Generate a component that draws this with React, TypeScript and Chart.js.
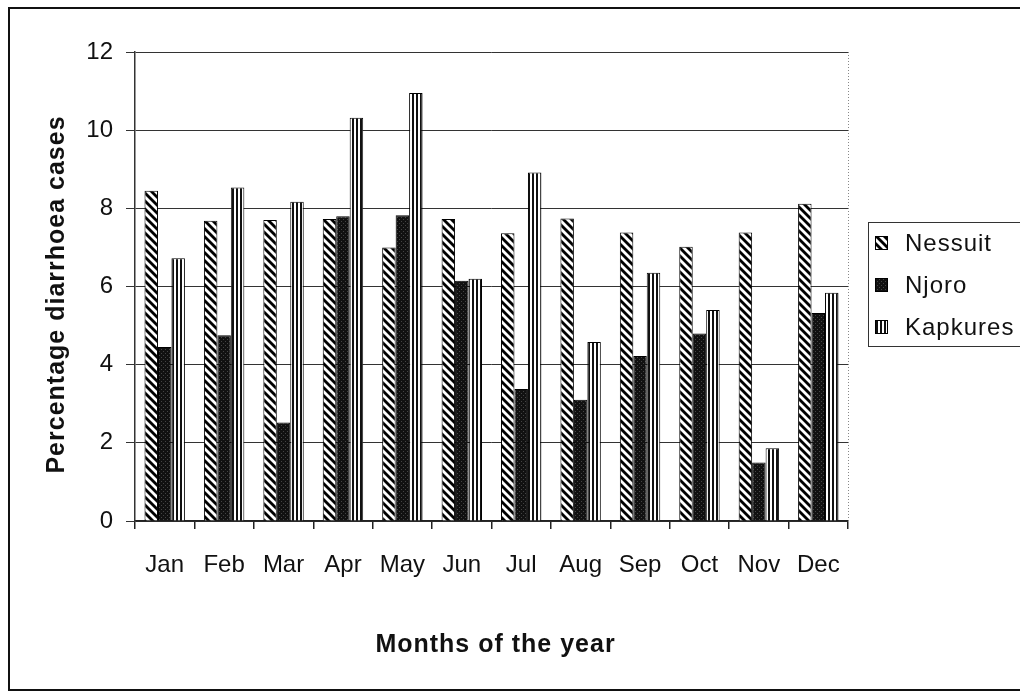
import { useEffect, useRef } from "react";
import { Chart, registerables } from "chart.js";

Chart.register(...registerables);

const months = ["Jan", "Feb", "Mar", "Apr", "May", "Jun", "Jul", "Aug", "Sep", "Oct", "Nov", "Dec"];
const seriesNames = ["Nessuit", "Njoro", "Kapkures"];
const nessuit = [8.45, 7.68, 7.7, 7.73, 7.0, 7.73, 7.36, 7.74, 7.38, 7.02, 7.38, 8.12];
const njoro = [4.45, 4.75, 2.52, 7.8, 7.82, 6.15, 3.38, 3.1, 4.22, 4.8, 1.5, 5.32];
const kapkures = [6.72, 8.53, 8.17, 10.32, 10.95, 6.2, 8.92, 4.58, 6.35, 5.4, 1.86, 5.84];
const yTicks = [0, 2, 4, 6, 8, 10, 12];

const xTitle = "Months of the year";
const yTitle = "Percentage diarrhoea cases";

const FAMILY = '"Liberation Sans", Arial, Helvetica, sans-serif';

function makeTile(w: number, h: number, paint: (c: CanvasRenderingContext2D) => void): CanvasPattern {
  const tile = document.createElement("canvas");
  tile.width = w;
  tile.height = h;
  const c = tile.getContext("2d")!;
  paint(c);
  const main = document.createElement("canvas").getContext("2d")!;
  return main.createPattern(tile, "repeat")!;
}

// Back-diagonal hatching
function hatchPattern() {
  return makeTile(8, 8, (c) => {
    c.fillStyle = "#fff";
    c.fillRect(0, 0, 8, 8);
    c.strokeStyle = "#000";
    c.lineWidth = 2.8;
    for (const x of [-8, 0, 8]) {
      c.beginPath();
      c.moveTo(x - 1, -1);
      c.lineTo(x + 9, 9);
      c.stroke();
    }
  });
}

// Dense dark stipple
function stipplePattern() {
  return makeTile(4, 4, (c) => {
    c.fillStyle = "#111";
    c.fillRect(0, 0, 4, 4);
    c.fillStyle = "#444";
    c.fillRect(1, 1, 1, 1);
    c.fillRect(3, 3, 1, 1);
  });
}

// Vertical stripes
function stripePattern() {
  return makeTile(4, 4, (c) => {
    c.fillStyle = "#fff";
    c.fillRect(0, 0, 4, 4);
    c.fillStyle = "#111";
    c.fillRect(0, 0, 2, 4);
  });
}

const decorPlugin = {
  id: "decor",
  beforeDraw(chart: any) {
    const { ctx, width, height } = chart;
    ctx.save();
    ctx.fillStyle = "#fff";
    ctx.fillRect(0, 0, width, height);
    ctx.restore();
  },
  afterDraw(chart: any) {
    const { ctx, chartArea: a } = chart;
    ctx.save();

    // dotted right edge of the plot area
    ctx.strokeStyle = "#888";
    ctx.lineWidth = 1;
    ctx.setLineDash([1, 2]);
    ctx.beginPath();
    ctx.moveTo(a.right + 0.5, a.top);
    ctx.lineTo(a.right + 0.5, a.bottom);
    ctx.stroke();
    ctx.setLineDash([]);

    // axis titles
    ctx.fillStyle = "#111";
    ctx.font = `bold 25px ${FAMILY}`;
    (ctx as any).letterSpacing = "1px";
    ctx.textAlign = "center";
    ctx.textBaseline = "middle";
    ctx.fillText(xTitle, (a.left + a.right) / 2 + 4, 645);
    ctx.save();
    ctx.translate(57, (a.top + a.bottom) / 2 + 8);
    ctx.rotate(-Math.PI / 2);
    ctx.fillText(yTitle, 0, 0);
    ctx.restore();

    // legend
    const lx = 868;
    const ly = 222;
    ctx.strokeStyle = "#333";
    ctx.lineWidth = 1;
    ctx.strokeRect(lx + 0.5, ly + 0.5, 200, 124);
    ctx.font = `24px ${FAMILY}`;
    (ctx as any).letterSpacing = "1px";
    ctx.textAlign = "left";
    chart.data.datasets.forEach((ds: any, i: number) => {
      const cy = ly + 21 + i * 42;
      ctx.fillStyle = ds.backgroundColor;
      ctx.fillRect(lx + 7, cy - 7, 13, 14);
      ctx.strokeStyle = "#000";
      ctx.strokeRect(lx + 7.5, cy - 6.5, 12, 13);
      ctx.fillStyle = "#111";
      ctx.fillText(ds.label, lx + 37, cy + 1);
    });
    (ctx as any).letterSpacing = "0px";

    // outer frame
    ctx.strokeStyle = "#111";
    ctx.lineWidth = 2;
    ctx.strokeRect(9, 8, 1040, 682);
    ctx.restore();
  },
};

export default function App() {
  const ref = useRef<HTMLCanvasElement | null>(null);

  useEffect(() => {
    document.body.style.margin = "0";
    const canvas = ref.current!;
    const fills = [hatchPattern(), stipplePattern(), stripePattern()];
    const values = [nessuit, njoro, kapkures];

    const chart = new Chart(canvas, {
      type: "bar",
      data: {
        labels: months,
        datasets: seriesNames.map((name, i) => ({
          label: name,
          data: values[i],
          backgroundColor: fills[i] as any,
          borderColor: "#000",
          borderWidth: 1,
          categoryPercentage: 0.68,
          barPercentage: 1.0,
        })),
      },
      options: {
        responsive: false,
        animation: false,
        events: [],
        layout: { padding: { top: 52, right: 172, bottom: 0, left: 0 } },
        plugins: {
          legend: { display: false },
          tooltip: { enabled: false },
        },
        scales: {
          x: {
            grid: {
              display: true,
              drawOnChartArea: false,
              drawTicks: true,
              tickLength: 8,
              offset: true,
              color: "#222",
              lineWidth: 1.5,
            },
            border: { display: true, color: "#222", width: 1.5 },
            ticks: {
              color: "#111",
              font: { size: 24, family: FAMILY },
              padding: 22,
              maxRotation: 0,
              autoSkip: false,
            },
            afterFit: (s: any) => {
              s.height = 171;
            },
          },
          y: {
            min: yTicks[0],
            max: yTicks[yTicks.length - 1],
            grid: { color: "#333", tickLength: 9, lineWidth: 1 },
            border: { display: true, color: "#333", width: 1.5 },
            ticks: {
              stepSize: yTicks[1] - yTicks[0],
              color: "#111",
              font: { size: 24, family: FAMILY },
              padding: 13,
            },
            afterFit: (s: any) => {
              s.width = 135;
            },
          },
        },
      },
      plugins: [decorPlugin],
    });

    return () => chart.destroy();
  }, []);

  return (
    <div style={{ width: 1020, height: 692 }}>
      <canvas ref={ref} width={1020} height={692} style={{ display: "block" }} />
    </div>
  );
}
